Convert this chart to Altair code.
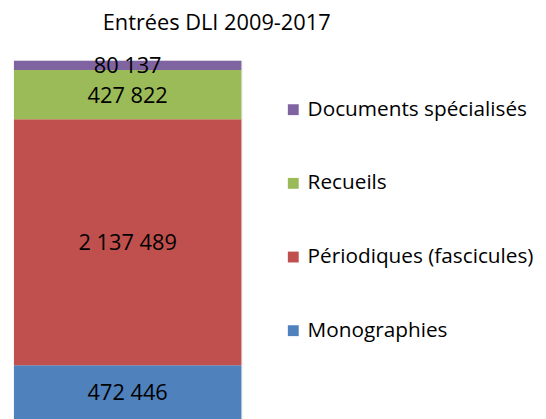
import altair as alt
import pandas as pd

categories = ["Monographies", "Périodiques (fascicules)", "Recueils", "Documents spécialisés"]
values = [472446, 2137489, 427822, 80137]
colors = ["#4F81BD", "#C0504D", "#9BBB59", "#8064A2"]
legend_order = ["Documents spécialisés", "Recueils", "Périodiques (fascicules)", "Monographies"]

labels = [f"{v:,}".replace(",", " ") for v in values]
df = pd.DataFrame({
    "cat": categories,
    "val": values,
    "label": labels,
    "ord": list(range(len(categories))),
    "grp": ["DLI"] * len(categories),
})

FONT = "Open Sans"
total = sum(values)

color_scale = alt.Scale(domain=legend_order,
                        range=[colors[categories.index(c)] for c in legend_order])

base = alt.Chart(df)

bars = base.mark_bar(stroke=None).encode(
    x=alt.X("grp:N", axis=None, scale=alt.Scale(paddingInner=0, paddingOuter=0)),
    y=alt.Y("val:Q", stack="zero", axis=None, scale=alt.Scale(domain=[0, total], nice=False, zero=True)),
    color=alt.Color("cat:N", scale=color_scale, sort=legend_order,
                    legend=alt.Legend(title=None, orient="none", legendX=272, legendY=39,
                                      symbolType="square", symbolSize=121, symbolStrokeWidth=0,
                                      labelFont=FONT, labelFontSize=21, labelColor="#000000",
                                      labelOffset=4, rowPadding=52.5, padding=0, labelLimit=400)),
    order=alt.Order("ord:Q", sort="ascending"),
)

texts = base.transform_stack(
    stack="val", groupby=["grp"], as_=["y0", "y1"], sort=[alt.SortField("ord", order="ascending")]
).transform_calculate(
    mid="(datum.y0 + datum.y1) / 2"
).mark_text(font=FONT, fontSize=22, color="#000000", baseline="middle", align="center", dy=1).encode(
    x=alt.X("grp:N", axis=None, scale=alt.Scale(paddingInner=0, paddingOuter=0)),
    y=alt.Y("mid:Q", axis=None, scale=alt.Scale(domain=[0, total], nice=False, zero=True)),
    text="label:N",
)

chart = alt.layer(bars, texts).properties(
    width=230,
    height=363,
    title=alt.TitleParams("Entrées DLI 2009-2017", font=FONT, fontSize=22, fontWeight="normal",
                          color="#000000", anchor="middle", frame="group", dx=90, offset=21),
    autosize=alt.AutoSizeParams(type="none"),
    padding={"left": 6, "top": 51, "right": 300, "bottom": 0},
).configure_view(stroke=None).configure(background="white")

chart.save("out.html", embed_options={"renderer": "svg", "actions": False})
